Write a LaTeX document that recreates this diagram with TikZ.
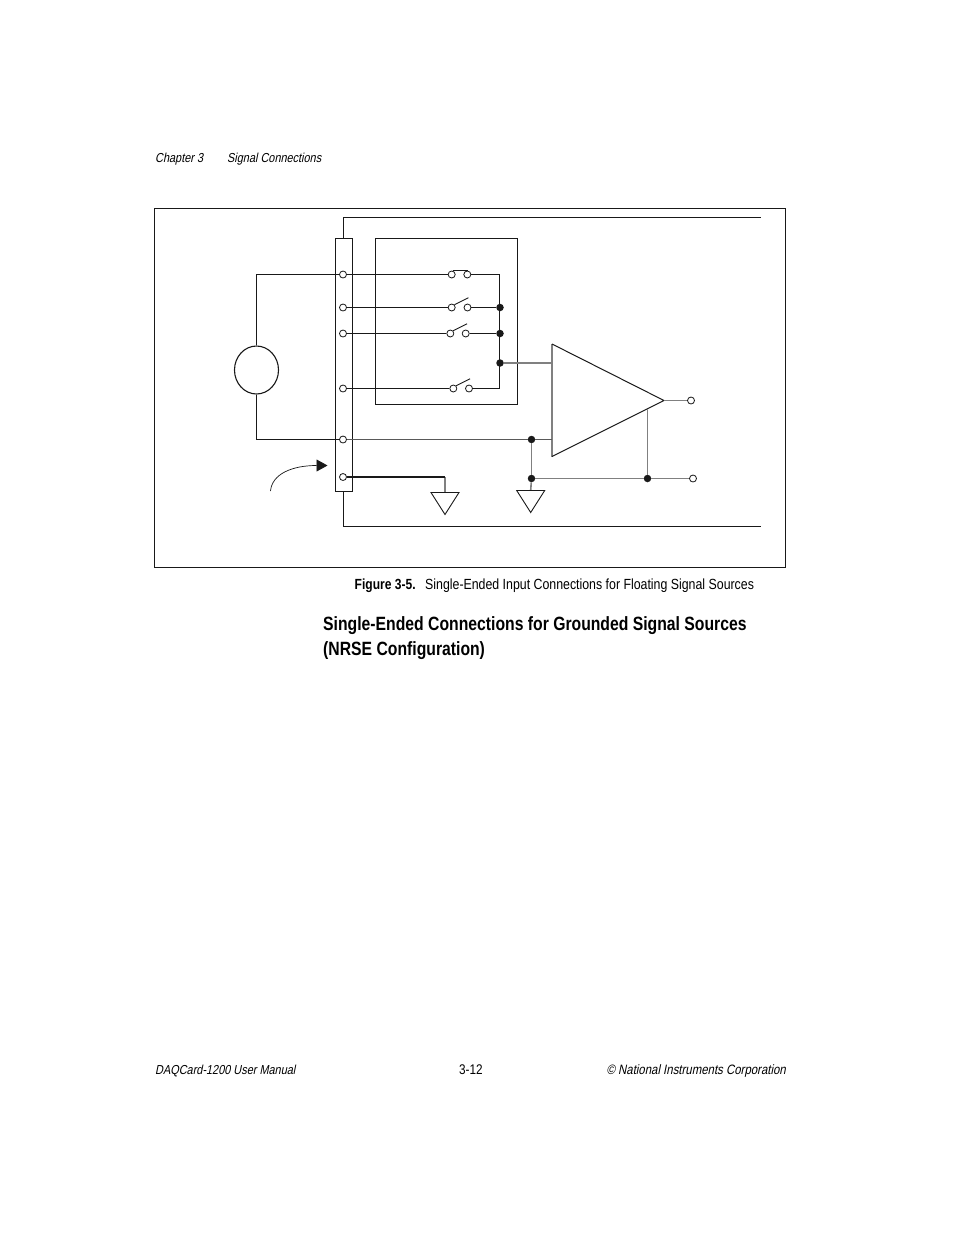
\documentclass[tikz,border=0pt]{standalone}
\usepackage{fontspec}
\usetikzlibrary{shapes.geometric,arrows.meta}
\setmainfont{Liberation Sans}
\newfontfamily\itf[FakeStretch=0.84,FakeSlant=0.2]{Liberation Sans}
\newfontfamily\caprm[FakeStretch=0.84]{Liberation Sans}
\newfontfamily\capbf[FakeStretch=0.82]{Liberation Sans Bold}
\begin{document}
\begin{tikzpicture}[x=1pt,y=-1pt,
  wire/.style={line width=1.1pt,black!90},
  gwire/.style={line width=1.6pt,black!50},
  arm/.style={line width=0.9pt,black!90},
  term/.style={circle,draw=black!90,fill=white,line width=0.8pt,minimum size=7pt,inner sep=0pt},
  dot/.style={circle,fill=black!90,minimum size=7.5pt,inner sep=0pt},
  txt/.style={inner sep=0pt,font=\itf\fontsize{13}{15}\selectfont},
  captxt/.style={inner sep=0pt,anchor=base west}]
\useasboundingbox (0,0) rectangle (954,1235);
% outer frame
\node[draw=black!90,line width=1.1pt,inner sep=0pt,minimum width=631pt,minimum height=359pt,anchor=north west] (frame) at (154,208) {};
% connector strip and mux box
\node[draw=black!90,line width=1.1pt,inner sep=0pt,minimum width=17pt,minimum height=253pt,anchor=north west] (strip) at (335,238) {};
\node[draw=black!90,line width=1.1pt,inner sep=0pt,minimum width=142pt,minimum height=166pt,anchor=north west] (mux) at (375,238) {};
% shields
\coordinate (shT) at (761,217.5);
\coordinate (shB) at (761,526.5);
\coordinate (stripT) at (343.5,238);
\coordinate (stripB) at (343.5,491);
\draw[wire] (stripT) |- (shT);
\draw[wire] (stripB) |- (shB);
% source
\node[draw=black!90,line width=1.1pt,ellipse,inner sep=0pt,minimum width=44pt,minimum height=48pt] (src) at (256.5,370) {};
% wires behind terminals
\coordinate (t1) at (343,274.5);
\coordinate (t5) at (343,439.5);
\draw[wire] (src.north) |- (t1);
\draw[wire] (src.south) |- (t5);
% strip terminals
\node[term] (T1) at (343,274.5) {};
\node[term] (T2) at (343,307.5) {};
\node[term] (T3) at (343,333.5) {};
\node[term] (T4) at (343,388.5) {};
\node[term] (T5) at (343,439.5) {};
\node[term] (T6) at (343,477) {};
% switches
\node[term] (s1a) at (451.7,274.5) {};
\node[term] (s1b) at (467.3,274.5) {};
\node[term] (s2a) at (451.7,307.5) {};
\node[term] (s2b) at (467.5,307.5) {};
\node[term] (s3a) at (450.3,333.5) {};
\node[term] (s3b) at (465.7,333.5) {};
\node[term] (s4a) at (453.3,388.5) {};
\node[term] (s4b) at (469,388.5) {};
\draw[arm] (s1a.north) ++(1,-0.5) -- ++(15,0);
\draw[arm] (s2a.north east) -- ++(14,-7);
\draw[arm] (s3a.north east) -- ++(14,-7);
\draw[arm] (s4a.north east) -- ++(14,-7);
% bus
\node[dot] (d1) at (500,307.5) {};
\node[dot] (d2) at (500,333.5) {};
\node[dot] (d3) at (500,363) {};
\coordinate (busT) at (499.5,274.5);
\coordinate (busB) at (499.5,388.5);
\draw[wire] (T1) -- (s1a);
\draw[wire] (T2) -- (s2a);
\draw[wire] (T3) -- (s3a);
\draw[wire] (T4) -- (s4a);
\draw[wire] (s1b) -- (busT) -- (busB) -- (s4b);
\draw[wire] (s2b) -- (d1);
\draw[wire] (s3b) -- (d2);
% amplifier
\coordinate (ampA) at (552,344);
\coordinate (ampB) at (552,456.5);
\coordinate (ampO) at (664,400.5);
\coordinate (ampP) at (552,363);
\coordinate (ampN) at (552,439.5);
\coordinate (ampG) at (647.5,409);
\draw[gwire] (ampA) -- (ampB);
\draw[line width=1pt,black!90] (ampB) -- (ampO) -- (ampA);
\draw[gwire] (d3) -- (ampP);
\node[dot] (d4) at (531.5,439.5) {};
\node[dot] (d5) at (531.5,478.5) {};
\node[dot] (d6) at (647.5,478.5) {};
\node[term] (O1) at (691,400.5) {};
\node[term] (O2) at (693,478.5) {};
\draw[gwire] (ampO) -- (O1);
\draw[gwire,black!65] (T5) -- (d4) -- (ampN);
\draw[gwire] (d4) -- (d5);
\draw[gwire] (d5) -- (d6) -- (O2);
\draw[gwire] (ampG) -- (d6);
% grounds
\node[coordinate] (g1) at (445,492.5) {};
\node[coordinate] (g2) at (530.7,490.5) {};
\coordinate (g1top) at (445,477);
\draw[gwire] (g1top) -- (g1);
\draw[wire] (T6) -- (g1top);
\draw[gwire] (d5) -- (g2);
\draw[line width=0.9pt,black!90] (431,492.5) -- (459,492.5) -- (445,514.5) -- cycle;
\draw[line width=0.9pt,black!90] (516.7,490.5) -- (544.7,490.5) -- (530.7,512.5) -- cycle;
% curved arrow
\coordinate (arrS) at (270.5,491);
\coordinate (arrE) at (327.5,465.5);
\draw[line width=0.7pt,black!90,-{Triangle[length=11pt,width=12pt]}] (arrS) .. controls (272,474) and (292,465.5) .. (arrE);
% text
\node[txt,anchor=base west] (hdL) at (155,162) {Chapter 3};
\node[txt,anchor=base west] (hdR) at (227,162) {Signal Connections};
\node[captxt,font=\capbf\fontsize{14.7}{17}\selectfont] (figno) at (354.5,589) {Figure 3-5.};
\node[captxt,font=\caprm\fontsize{14.7}{17}\selectfont] (figt) at (425,589) {Single-Ended Input Connections for Floating Signal Sources};
\node[captxt,font=\capbf\fontsize{19.2}{22}\selectfont] (h1) at (323,630.5) {Single-Ended Connections for Grounded Signal Sources};
\node[captxt,font=\capbf\fontsize{19.2}{22}\selectfont] (h2) at (323,655.5) {(NRSE Configuration)};
\node[txt,anchor=base west] (ftL) at (155,1074) {DAQCard-1200 User Manual};
\node[txt,anchor=base west,font=\caprm\fontsize{14}{16}\selectfont] (ftC) at (459,1074) {3-12};
\node[txt,anchor=base east,font=\itf\fontsize{13.6}{15}\selectfont] (ftR) at (786,1074) {© National Instruments Corporation};
\end{tikzpicture}
\end{document}
